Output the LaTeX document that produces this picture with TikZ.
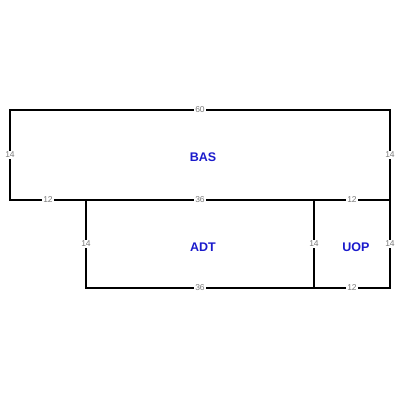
\documentclass[tikz,border=0pt]{standalone}
\usepackage{fontspec}
\setmainfont{Liberation Sans}
\usetikzlibrary{calc}
\definecolor{dimgray}{HTML}{7A7A7A}
\definecolor{roomblue}{HTML}{1A1ACC}
\begin{document}
\begin{tikzpicture}[x=1pt,y=-1pt,
  wall/.style={line width=2pt,line cap=rect},
  dimlabel/.style={fill=white,inner sep=0.8pt,text=dimgray,font=\fontsize{8.5}{9}\selectfont},
  roomlabel/.style={text=roomblue,font=\fontsize{12.5}{13}\selectfont\bfseries}]
\useasboundingbox (0,0) rectangle (400,400);
\coordinate (a) at (10,110);
\coordinate (b) at (390,110);
\coordinate (c) at (10,200);
\coordinate (d) at (86,200);
\coordinate (e) at (314,200);
\coordinate (f) at (390,200);
\coordinate (g) at (86,288);
\coordinate (h) at (314,288);
\coordinate (i) at (390,288);
\draw[wall] (a) -- (b) -- (f) -- (i) -- (h) -- (g) -- (d) -- (c) -- cycle;
\draw[wall] (d) -- (f);
\draw[wall] (e) -- (h);
\node[dimlabel] (l60) at ($(a)!0.5!(b)$) {60};
\node[dimlabel] (l14a) at ($(a)!0.5!(c)$) {14};
\node[dimlabel] (l14b) at ($(b)!0.5!(f)$) {14};
\node[dimlabel] (l12a) at ($(c)!0.5!(d)$) {12};
\node[dimlabel] (l36a) at ($(d)!0.5!(e)$) {36};
\node[dimlabel] (l12b) at ($(e)!0.5!(f)$) {12};
\node[dimlabel] (l14c) at ($(d)!0.5!(g)$) {14};
\node[dimlabel] (l14d) at ($(e)!0.5!(h)$) {14};
\node[dimlabel] (l14e) at ($(f)!0.5!(i)$) {14};
\node[dimlabel] (l36b) at ($(g)!0.5!(h)$) {36};
\node[dimlabel] (l12c) at ($(h)!0.5!(i)$) {12};
\node[roomlabel] (bas) at (203,157.5) {BAS};
\node[roomlabel] (adt) at (203,247.5) {ADT};
\node[roomlabel] (uop) at (356,247.5) {UOP};
\end{tikzpicture}
\end{document}
